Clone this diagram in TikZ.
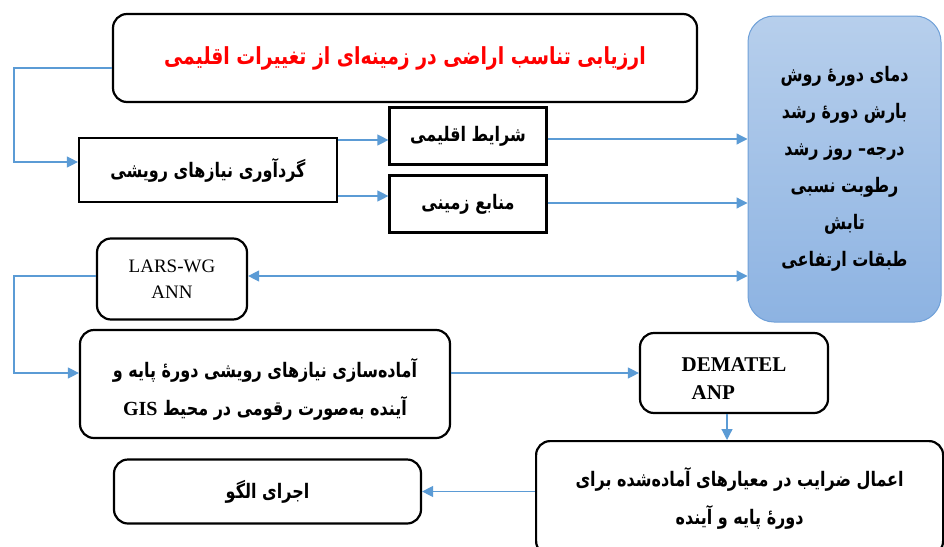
\documentclass[tikz,border=0pt]{standalone}
\usepackage{fontspec}
\usetikzlibrary{arrows.meta,calc}
\TeXXeTstate=1
\newfontfamily\arfont[Script=Arabic,FakeStretch=0.8]{DejaVu Sans}
\newfontfamily\tmsfont{Liberation Serif}
\newcommand\fa[1]{{\arfont\bfseries\beginR #1\endR}}
\definecolor{conn}{HTML}{5B9BD5}
\definecolor{bluetop}{HTML}{B7CFEC}
\definecolor{bluebot}{HTML}{8DB3E2}
\definecolor{blueline}{HTML}{6FA0D8}
\tikzset{
  rbox/.style={draw=black, line width=2.2pt, rounded corners=14pt, align=center, inner sep=0pt},
  sbox/.style={draw=black, line width=2.2pt, align=center, inner sep=0pt},
  conline/.style={draw=conn, line width=1.2pt},
  arr/.style={conline, -{Triangle[length=11pt,width=11pt]}},
  darr/.style={conline, {Triangle[length=11pt,width=11pt]}-{Triangle[length=11pt,width=11pt]}},
  artext/.style={font=\fontsize{20}{22}\selectfont},
}
\begin{document}
\begin{tikzpicture}[x=1pt,y=-1pt]
\useasboundingbox (0,0) rectangle (944,546);
\fill[white] (0,0) rectangle (944,546);

\node[rbox, minimum width=584pt, minimum height=88pt, font=\fontsize{23.5}{26}\selectfont, text=red] (title) at (405,58) {\fa{ارزیابی تناسب اراضی در زمینه‌ای از تغییرات اقلیمی}};

\node[sbox, artext, minimum width=258pt, minimum height=64pt] (gather) at (208,170) {\fa{گردآوری نیازهای رویشی}};
\node[sbox, artext, minimum width=157pt, minimum height=57pt] (climate) at (468,136) {\fa{شرایط اقلیمی}};
\node[sbox, artext, minimum width=157pt, minimum height=57pt] (land) at (468,204) {\fa{منابع زمینی}};

\node[draw=blueline, line width=1pt, rounded corners=26pt, top color=bluetop, bottom color=bluebot, minimum width=193pt, minimum height=306pt, align=center, font=\fontsize{20}{37}\selectfont] (factors) at (844.5,169) {\fa{دمای دورهٔ روش}\\\fa{بارش دورهٔ رشد}\\\fa{درجه– روز رشد}\\\fa{رطوبت نسبی}\\\fa{تابش}\\\fa{طبقات ارتفاعی}};

\node[rbox, minimum width=150pt, minimum height=81pt, font=\tmsfont\fontsize{19}{26}\selectfont] (lars) at (172,279) {LARS-WG\\ANN};

\node[rbox, minimum width=370pt, minimum height=108pt, font=\fontsize{20}{38}\selectfont] (prep) at (265,384) {\rule{0pt}{30pt}\fa{آماده‌سازی نیازهای رویشی دورهٔ پایه و}\\\fa{آینده به‌صورت رقومی در محیط \beginL{\tmsfont\bfseries GIS}\endL}};

\node[rbox, minimum width=188pt, minimum height=80pt, align=left, font=\tmsfont\bfseries\fontsize{21}{28}\selectfont] (dem) at (734,373) {\rule{0pt}{24pt}DEMATEL\\\hspace*{10pt}ANP\hspace*{48pt}};

\node[rbox, artext, minimum width=407pt, minimum height=114pt, font=\fontsize{20}{38}\selectfont, anchor=north west] (apply) at (535,440) {\fa{اعمال ضرایب در معیارهای آماده‌شده برای}\\\fa{دورهٔ پایه و آینده}};

\node[rbox, artext, minimum width=307pt, minimum height=64pt] (algo) at (267.5,491.5) {\fa{اجرای الگو}};

% connectors
\coordinate (c1) at (14,68);
\draw[arr] ([yshift=-10pt]title.west) -- (c1) |- ([yshift=8pt]gather.west);
\draw[arr] ([yshift=-4pt]climate.west -| gather.east) -- ([yshift=-4pt]climate.west);
\draw[arr] ([yshift=8pt]land.west -| gather.east) -- ([yshift=8pt]land.west);
\draw[arr] ([yshift=-3pt]climate.east) -- ([yshift=-3pt]climate.east -| factors.west);
\draw[arr] ([yshift=1pt]land.east) -- ([yshift=1pt]land.east -| factors.west);
\draw[darr] ([yshift=3pt]lars.east) -- ([yshift=3pt]lars.east -| factors.west);
\coordinate (c2) at (14,276);
\draw[arr] ([yshift=3pt]lars.west) -- (c2) |- (prep.west |- dem.west);
\draw[arr] (prep.east |- dem.west) -- (dem.west);
\draw[arr] ([xshift=-7pt]dem.south) -- ([xshift=-7pt]dem.south |- apply.north);
\draw[arr] (apply.west |- algo.east) -- (algo.east);
\end{tikzpicture}
\end{document}
